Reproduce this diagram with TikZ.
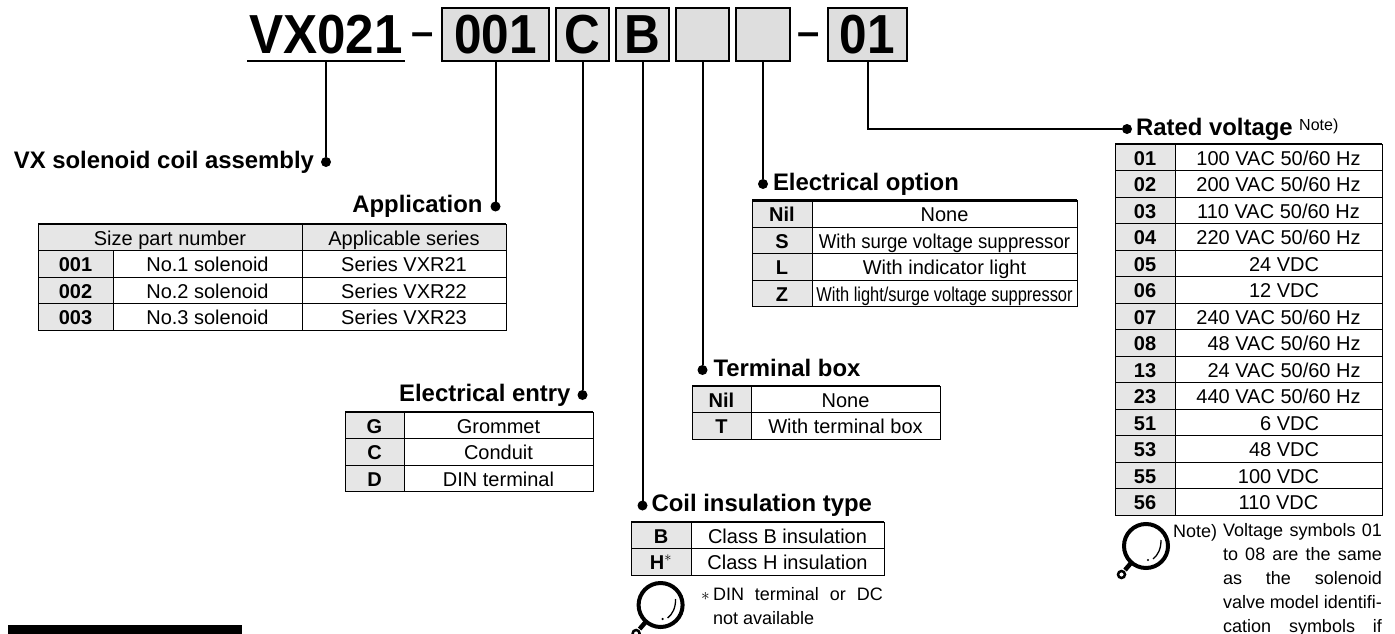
\documentclass[tikz,border=0pt]{standalone}
\usepackage{amsmath}
\usepackage{fontspec}
\setmainfont{Liberation Sans}
\usetikzlibrary{positioning}

\newcommand{\tabfont}{\fontsize{20}{21}\selectfont}
\newcommand{\notefont}{\fontsize{18}{24.2}\selectfont}
\newcommand{\noteline}[2][159pt]{\makebox[#1][s]{#2}}

\definecolor{boxgray}{HTML}{DEDEDE}
\definecolor{cellgray}{HTML}{E6E6E6}

\tikzset{
    partfont/.style={font=\fontsize{55}{60}\selectfont\bfseries},
    partbox/.style={draw,line width=2pt,fill=boxgray,inner sep=0pt,outer sep=0pt,
        minimum height=53pt,text height=39pt,text depth=0pt,partfont},
    partdash/.style={inner sep=0pt,outer sep=0pt,font=\fontsize{40}{40}\selectfont\bfseries},
    dot/.style={circle,fill=black,inner sep=0pt,outer sep=0pt,minimum size=10pt},
    head/.style={inner sep=0pt,outer sep=0pt,text height=17pt,text depth=5pt,
        font=\fontsize{23.9}{26}\selectfont\bfseries},
    cell/.style={draw,line width=1pt,inner sep=0pt,outer sep=0pt,minimum height=26.5pt,
        text height=15.5pt,text depth=0pt,font=\tabfont},
    code/.style={cell,fill=cellgray,font=\tabfont\bfseries},
    toprule/.style={line width=2.2pt},
    note/.style={inner sep=0pt,outer sep=0pt,font=\notefont},
    lens/.pic={
        \draw[line width=4pt] (0,0) circle (22pt);
        \draw[line width=1.3pt] (15,-6) .. controls (15,3) and (12,9) .. (7,13);
        \fill (2,14) circle (1.2pt);
        \draw[line width=4.5pt] (-15,17) -- (-21,24);
        \draw[line width=2.5pt] (-24.5,28.5) circle (3.5pt);
    }
}

\begin{document}
\begin{tikzpicture}[x=1pt,y=-1pt]
    \useasboundingbox (0,0) rectangle (1395,634);

    % part number
    \node(title)[inner sep=0pt,outer sep=0pt,minimum width=158pt,minimum height=53pt,
        text height=39pt,text depth=0pt,partfont] at (326,34.5){\scalebox{.93}[1]{VX021}};
    \node(dash_a)[partdash] at (423,39){--};
    \node(box_001)[partbox,minimum width=107pt] at (495.5,34.5){\scalebox{.9}[1]{001}};
    \node(box_c)[partbox,minimum width=53pt,right=7pt of box_001]{\scalebox{.9}[1]{C}};
    \node(box_b)[partbox,minimum width=53pt,right=7pt of box_c]{\scalebox{.9}[1]{B}};
    \node(box_t)[partbox,minimum width=53pt,right=7pt of box_b]{};
    \node(box_o)[partbox,minimum width=54pt,right=7pt of box_t]{};
    \node(dash_b)[partdash] at (809,39){--};
    \node(box_01)[partbox,minimum width=79pt] at (867.5,34.5){\scalebox{.9}[1]{01}};
    \draw[line width=2.5pt] (title.south west) -- (title.south east);

    % end points and headings
    \node(dot_vx)[dot] at (title |- 0,162){};
    \node(dot_app)[dot] at (box_001 |- 0,206.5){};
    \node(dot_entry)[dot] at (box_c |- 0,395){};
    \node(dot_coil)[dot] at (box_b |- 0,505.5){};
    \node(dot_term)[dot] at (box_t |- 0,370){};
    \node(dot_opt)[dot] at (box_o |- 0,184){};
    \node(dot_rated)[dot] at (1127,129){};

    \node(head_vx)[head,left=7pt of dot_vx]{VX solenoid coil assembly};
    \node(head_app)[head,left=8pt of dot_app]{Application};
    \node(head_entry)[head,left=7pt of dot_entry]{Electrical entry};
    \node(head_coil)[head,right=4pt of dot_coil]{Coil insulation type};
    \node(head_term)[head,right=6pt of dot_term]{Terminal box};
    \node(head_opt)[head,right=5pt of dot_opt]{Electrical option};
    \node(head_rated)[head,right=4pt of dot_rated]{Rated voltage};
    \node(head_note)[inner sep=0pt,font=\fontsize{16}{18}\selectfont,anchor=base west] at (1299,130){Note)};

    \path[every edge/.append style={line width=2pt}]

    (title.south) edge (dot_vx)
    (box_001.south) edge (dot_app)
    (box_c.south) edge (dot_entry)
    (box_b.south) edge (dot_coil)
    (box_t.south) edge (dot_term)
    (box_o.south) edge (dot_opt)
    (box_01.south) edge[to path={|- (\tikztotarget)}] (dot_rated)

    ;

    % application
    \node(app_head)[cell,fill=cellgray,minimum width=264pt] at (170,237.25){Size part number};
    \node(app_series)[cell,fill=cellgray,minimum width=204pt,right=0pt of app_head]{Applicable series};
    \foreach \num/\name/\series [count=\i] in {001/No.1 solenoid/Series VXR21,002/No.2 solenoid/Series VXR22,003/No.3 solenoid/Series VXR23}{
        \node(app_\i)[code,minimum width=75pt] at (75.5,{224+26.5*(\i+.5)}){\num};
        \node(app_name_\i)[cell,minimum width=189pt,right=0pt of app_\i]{\name};
        \node(app_ser_\i)[cell,minimum width=204pt,right=0pt of app_name_\i]{\series};
    }
    \draw[toprule] (app_head.north west) -- (app_series.north east);

    % electrical entry
    \foreach \sym/\txt [count=\i] in {G/Grommet,C/Conduit,D/DIN terminal}{
        \node(entry_\i)[code,minimum width=59pt] at (374.5,{412+26.5*(\i-.5)}){\sym};
        \node(entry_txt_\i)[cell,minimum width=189pt,right=0pt of entry_\i]{\txt};
    }
    \draw[toprule] (entry_1.north west) -- (entry_txt_1.north east);

    % coil insulation
    \foreach \sym/\txt [count=\i] in {B/Class B insulation,{H\textmd{$^{*}$}}/Class H insulation}{
        \node(coil_\i)[code,minimum width=60pt] at (661,{522+26.5*(\i-.5)}){\sym};
        \node(coil_txt_\i)[cell,minimum width=193pt,right=0pt of coil_\i]{\txt};
    }
    \draw[toprule] (coil_1.north west) -- (coil_txt_1.north east);
    \pic(lens_coil) at (660.6,605) {lens};
    \node(coil_star)[note,anchor=base west] at (701,600){$*$};
    \node(coil_note)[note,align=left,anchor=north west] at (713,587){\noteline[170pt]{DIN terminal or DC}\\not available};

    % terminal box
    \foreach \sym/\txt [count=\i] in {Nil/None,T/With terminal box}{
        \node(term_\i)[code,minimum width=59pt] at (721.5,{386.5+26.25*(\i-.5)}){\sym};
        \node(term_txt_\i)[cell,minimum width=189pt,right=0pt of term_\i]{\txt};
    }
    \draw[toprule] (term_1.north west) -- (term_txt_1.north east);

    % electrical option
    \foreach \sym/\txt [count=\i] in {Nil/None,S/{\scalebox{.93}[1]{With surge voltage suppressor}},L/With indicator light,Z/{\scalebox{.82}[1]{With light/surge voltage suppressor}}}{
        \node(opt_\i)[code,minimum width=60pt] at (782,{200.5+26.5*(\i-.5)}){\sym};
        \node(opt_txt_\i)[cell,minimum width=265pt,right=0pt of opt_\i]{\txt};
    }
    \draw[toprule] (opt_1.north west) -- (opt_txt_1.north east);

    % rated voltage
    \foreach \sym/\txt [count=\i] in {01/{100 VAC 50/60 Hz},02/{200 VAC 50/60 Hz},03/{110 VAC 50/60 Hz},04/{220 VAC 50/60 Hz},
        05/{\hphantom{0}24 VDC},06/{\hphantom{0}12 VDC},07/{240 VAC 50/60 Hz},08/{\hphantom{0}48 VAC 50/60 Hz},
        13/{\hphantom{0}24 VAC 50/60 Hz},23/{440 VAC 50/60 Hz},51/{\hphantom{00}6 VDC},53/{\hphantom{0}48 VDC},
        55/{100 VDC},56/{110 VDC}}{
        \node(rated_\i)[code,minimum width=60pt] at (1145,{144+26.5*(\i-.5)}){\sym};
        \node(rated_txt_\i)[cell,minimum width=207pt,right=0pt of rated_\i]{\txt};
    }
    \draw[toprule] (rated_1.north west) -- (rated_txt_1.north east);
    \pic(lens_rated) at (1146,546) {lens};
    \node(rated_label)[note,anchor=base west] at (1173,537.7){Note)};
    \node(rated_note)[note,align=left,anchor=north west] at (1223,523){\noteline{Voltage symbols 01}\\
        \noteline{to 08 are the same}\\
        \noteline{as the solenoid}\\
        \noteline{valve model identifi-}\\
        \noteline{cation symbols if}};

    \fill (8,625) rectangle (242,634);
\end{tikzpicture}
\end{document}
